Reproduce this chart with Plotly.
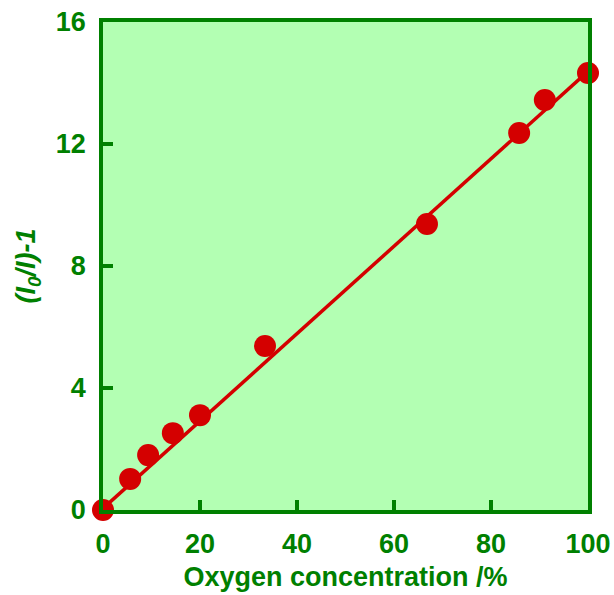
import plotly.graph_objects as go

# Data
oxygen_pct = [0, 5.6, 9.3, 14.4, 20.0, 33.4, 66.8, 85.8, 91.1, 100.0]
ratio_minus_one = [0, 1.02, 1.80, 2.52, 3.11, 5.38, 9.38, 12.36, 13.44, 14.33]

fit_x = [0, 100]
fit_y = [0.05, 14.38]

x_ticks = [0, 20, 40, 60, 80, 100]
y_ticks = [0, 4, 8, 12, 16]

GREEN = "#008000"
RED = "#d40000"
FONT = "Liberation Sans, Arial, sans-serif"

fig = go.Figure()
fig.add_trace(go.Scatter(x=fit_x, y=fit_y, mode="lines",
                         line=dict(color=RED, width=3.5),
                         cliponaxis=False, showlegend=False, hoverinfo="skip"))
fig.add_trace(go.Scatter(x=oxygen_pct, y=ratio_minus_one, mode="markers",
                         marker=dict(color=RED, size=22, line=dict(width=0)),
                         cliponaxis=False, showlegend=False))

fig.update_layout(
    width=614, height=595,
    margin=dict(l=103, r=26, t=22, b=85),
    plot_bgcolor="#b3ffb3",
    paper_bgcolor="white",
    font=dict(family=FONT, color=GREEN),
    xaxis=dict(
        range=[0, 100], tickvals=x_ticks, ticks="inside", ticklen=10, tickwidth=3.5,
        tickcolor=GREEN, showline=True, linecolor=GREEN, linewidth=3.5, mirror=True,
        showgrid=False, zeroline=False, automargin=False,
        tickfont=dict(size=27, color=GREEN, family=FONT, weight="bold"),
        ticklabelstandoff=7,
        title=dict(text="<b>Oxygen concentration /%</b>",
                   font=dict(size=27, color=GREEN, family=FONT), standoff=10),
    ),
    yaxis=dict(
        range=[0, 16], tickvals=y_ticks, ticks="inside", ticklen=10, tickwidth=3.5,
        tickcolor=GREEN, showline=True, linecolor=GREEN, linewidth=3.5, mirror=True,
        showgrid=False, zeroline=False, automargin=False,
        tickfont=dict(size=27, color=GREEN, family=FONT, weight="bold"),
        ticklabelstandoff=8,
        title=dict(text="<b><i>(I<sub>0</sub>/I)-1</i></b>",
                   font=dict(size=27, color=GREEN, family=FONT), standoff=13),
    ),
)

fig.write_html("out.html", config={"displayModeBar": False},
               post_script="document.body.style.margin='0';")
